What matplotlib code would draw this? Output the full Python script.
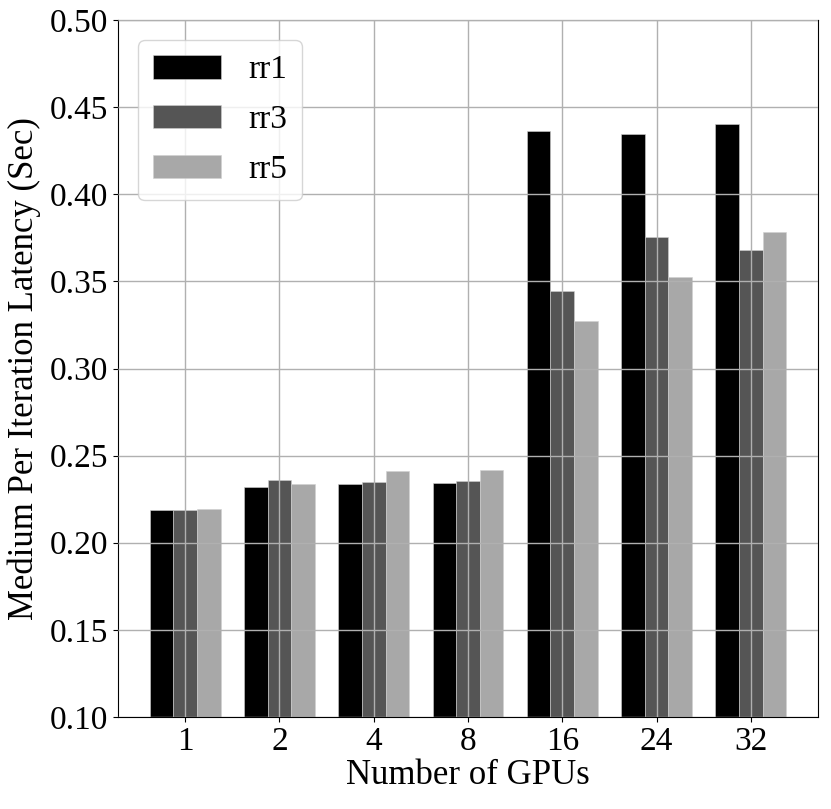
import matplotlib
matplotlib.use("Agg")
import matplotlib.pyplot as plt
import numpy as np

plt.rcParams['font.family'] = ['Liberation Serif', 'DejaVu Serif']

gpus = ['1', '2', '4', '8', '16', '24', '32']
rr1 = [0.219, 0.2322, 0.2338, 0.2342, 0.4365, 0.4346, 0.4404]
rr3 = [0.219, 0.2361, 0.2348, 0.2353, 0.3446, 0.3754, 0.3678]
rr5 = [0.2194, 0.2338, 0.2412, 0.2418, 0.3273, 0.3523, 0.3785]
series_names = ['rr1', 'rr3', 'rr5']
colors = ['#000000', '#555555', '#a8a8a8']

fig = plt.figure(figsize=(8.31, 8.09), dpi=100)
ax = fig.add_axes([118/831, 92/809, 700/831, 697/809])

x = np.arange(len(gpus))
w = 0.25
for i, (vals, name, c) in enumerate(zip([rr1, rr3, rr5], series_names, colors)):
    ax.bar(x + (i - 1) * w, vals, width=w, color=c, label=name,
           edgecolor='#d0d0d0', linewidth=0.4)

ax.set_ylim(0.10, 0.50)
ax.set_yticks(np.arange(0.10, 0.501, 0.05))
ax.set_yticklabels([f'{v:.2f}' for v in np.arange(0.10, 0.501, 0.05)])
ax.set_xticks(x)
ax.set_xticklabels(gpus)
ax.tick_params(labelsize=24)
ax.set_xlabel('Number of GPUs', fontsize=25, labelpad=1)
ax.set_ylabel('Medium Per Iteration Latency (Sec)', fontsize=25, labelpad=6)
ax.grid(True, color='#b0b0b0', linewidth=1.0)
ax.set_axisbelow(False)
ax.legend(loc='upper left', fontsize=24, handlelength=2.05, handleheight=0.7,
          labelspacing=0.58, borderpad=0.45, handletextpad=0.8, borderaxespad=0.6)

fig.savefig('out.png', dpi=100)
